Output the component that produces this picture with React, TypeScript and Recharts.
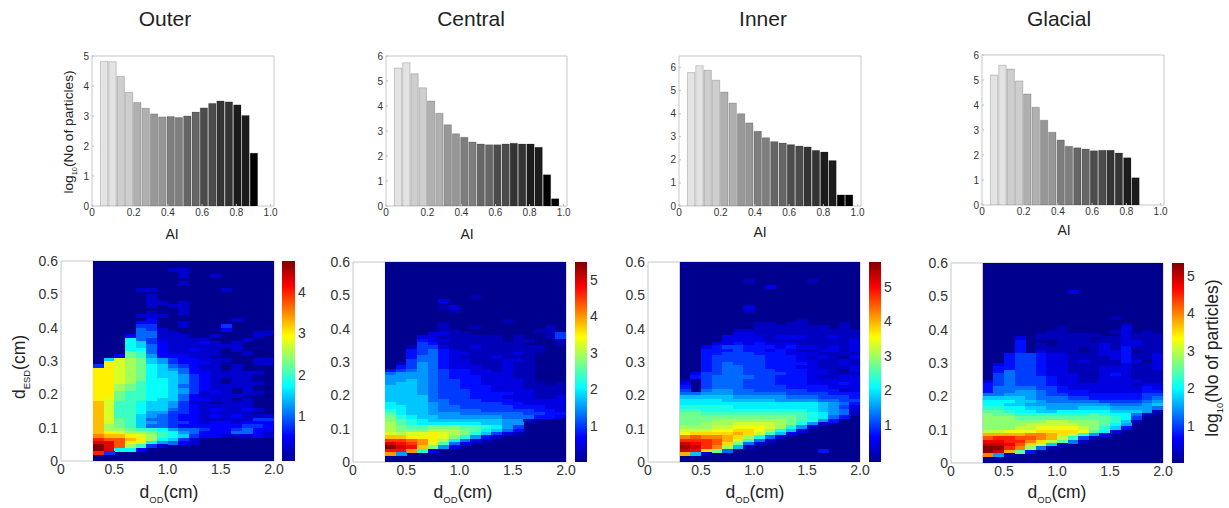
import React from 'react';
import { BarChart, Bar, Cell, ScatterChart, Scatter, XAxis, YAxis, ReferenceArea } from 'recharts';

// AI bin centres and grey per bin, shared by all four histograms
const aiBins = [0.03, 0.079, 0.127, 0.176, 0.224, 0.273, 0.322, 0.37, 0.419, 0.467, 0.516, 0.565, 0.613, 0.662, 0.71, 0.759, 0.808, 0.856, 0.905, 0.953];
const binGreys = ['#e3e3e3', '#e3e3e3', '#cecece', '#cecece', '#b0b0b0', '#b0b0b0', '#979797', '#979797', '#7e7e7e', '#7e7e7e', '#666666', '#666666', '#4c4c4c', '#4c4c4c', '#343434', '#343434', '#1c1c1c', '#1c1c1c', '#000000', '#000000'];

const outerCounts = [4.82, 4.81, 4.32, 3.79, 3.45, 3.26, 3.07, 2.97, 2.98, 2.95, 3.0, 3.13, 3.27, 3.42, 3.5, 3.47, 3.37, 3.02, 1.76];
const centralCounts = [5.52, 5.73, 5.29, 4.73, 4.2, 3.71, 3.25, 2.89, 2.75, 2.56, 2.48, 2.45, 2.45, 2.48, 2.51, 2.48, 2.48, 2.35, 1.25, 0.29];
const innerCounts = [5.78, 6.08, 5.88, 5.45, 4.94, 4.46, 4.0, 3.6, 3.24, 2.96, 2.79, 2.73, 2.66, 2.6, 2.56, 2.41, 2.34, 1.97, 0.48, 0.48];
const glacialCounts = [5.2, 5.59, 5.44, 4.96, 4.44, 3.91, 3.39, 2.91, 2.6, 2.35, 2.29, 2.24, 2.17, 2.19, 2.19, 2.08, 1.89, 1.09];

// heat maps: one string per 0.01 cm row of dESD, top row first, last string is 0-0.01.
// each char is one 0.1 cm column of dOD from 0.3 to 2.0, value = index in levelChars * 0.25 (log10)
const levelChars = '0123456789ABCDEFGHIJKLMNOP';

const outerRows = [
  '00000001100000000', '00000000100000000', '00000000100100000', '00000000000000000', '00000000100000000', '00000000000000000',
  '00001100000010000', '00000000000000000', '00000100000000000', '00000100000000000', '00000110100000000', '00000101100000000',
  '00000000100000000', '00000100100000000', '00001110000000000', '00000200000001000', '00002200100000000', '00003300100030000',
  '00004310000020000', '00004411000000011',
  '00024411100100010',
  '00074311111000100',
  '00076321112101000',
  '00076421111111000',
  '00077421121101000',
  '00098421111100100',
  '00298522211000000',
  '06BA9653221110011',
  '0CBA9653222100011',
  '3CBA9764321101000',
  'CCBA9765421101000',
  'CCBA9766422111110',
  'CCBA9766532111100',
  'CCBA9776532101100',
  'CCBA8776532101110',
  'CCA98776432111100',
  'CCA98776532110100',
  'CC988776531210110',
  'CC988776421111000',
  'CB988766422110100',
  'DB887665311011100',
  'DB887665321111100',
  'DB887664321211210',
  'DB887553321111100',
  'DB886543221212111',
  'DB986443221111133',
  'DB986543321221222',
  'DA986443222222332',
  'DAA98875443223422',
  'DCBAA987542224421',
  'EDDCBA87632211121',
  'GFFDCA76310000000',
  'HHFCB754210000000',
  'JHFA8310000000000',
  'JH772000000000000',
  'G3000000000000000',
  '00000000000000000',
  '00000000000000000',
];

const centralRows = [
  '00000000100000000', '00000200000000000', '00000000000000000', '00000120000000000', '00000010000000000', '00000000000000000',
  '00000000000000000', '00000000000100000', '00000100000000000', '00000100100000010', '00000110000000110', '00002211000000014',
  '00022111111010014',
  '00032211111011001',
  '00043111111110001',
  '00144211211111100',
  '00345321111111100',
  '00345322111121000',
  '00355321112111000',
  '00455322111221000',
  '01465322111211000',
  '03465322211211000',
  '34565433221211000',
  '56665433222211000',
  '66665433322211000',
  '66765443322221000',
  '67765443322221101',
  '77765443332221111',
  '77765444332222111',
  '77765444333322111',
  '77775444333222112',
  '77775544433322222',
  '87776544444332222',
  '88776554444433322',
  '98776555544444332',
  'A8776665555554433',
  'B9877666666555332',
  'BA987777777661000',
  'CA988888877660000',
  'CBAABBBAA98640000',
  'CBBBCCCBA87530000',
  'DCDDEDCB974210000',
  'FFEEEDB9631000000',
  'IIHGEC85210000000',
  'KJIGDA52000000000',
  'MKJFB620000000000',
  'JJG92000000000000',
  'G6000000000000000',
  '00000000000000000',
  '00000000000000000',
];

const innerRows = [
  '00000000000000000', '00000010000010000', '00000000000000000', '00000000200000000', '00000000000000000', '00000000000000000',
  '00000000000000000', '00000000000000000', '00000000000000000', '00000020000000000', '00000010000000000', '00000000000000000',
  '00000000000000000', '00000000000100000', '00000001101100010',
  '00000001111111010',
  '00000111111111111',
  '00000221111111111',
  '00002222122211211',
  '00002222111111112',
  '00022323222111112',
  '00234433323221212',
  '00333433232112212',
  '00334443332221111',
  '00344444333212102',
  '00344444333221121',
  '00345444333321121',
  '00345544333221112',
  '00345544433322102',
  '02445544443322111',
  '03455554433321122',
  '10455544433322222',
  '20455544433322232',
  '30455544443333222',
  '40566554444433312',
  '55666555554444333',
  '77777666665554443',
  '88887777766665544',
  '88888888888887653',
  '99999888888887642',
  'AA999999999987651',
  'BBAAAAAAAAAA98651',
  'BBBBBBBBBBBA98530',
  'BBBCCCCCCCBA96300',
  'BBCCCDDDDCB961000',
  'CCCDDEEEDC9610000',
  'DDDEEFFEC97200000',
  'EFFFFGFDA72000000',
  'HIHHGFC9510000000',
  'JJJIGDA5100000000',
  'LKJIFB51000000000',
  'MLJHC710000000000',
  'LKFB5000000003000',
  'G7100000000000000',
  '00000000000000000',
  '00000000000000000',
];

const glacialRows = [
  '00000000200000000', '00000000000000000', '00000000000000000', '00000000000000000', '00000000000000000', '00000000000000000',
  '00000000000000000', '00000000000000000', '00000000000010000', '00000000000000000', '00000000000001000', '00000001000002000',
  '00000011000012010',
  '00000111111002111',
  '00020111110112111',
  '00030001111112211',
  '00030101111212211',
  '00030111101213111',
  '00030211101223011',
  '00344322111223112',
  '00344322111123112',
  '00344322121113202',
  '02344322111112112',
  '03344322111222112',
  '03544322111222111',
  '04544322210232111',
  '04544432211222111',
  '24544432211222211',
  '34544432222222122',
  '35555443222222232',
  '35566543332222233',
  '55666544333333344',
  '77776555443333345',
  '88877655555444456',
  '88776666666655567',
  '99887766677766665',
  'AA988778888877761',
  'BAA9999999A988510',
  'BBBAAAAAAAAA98400',
  'BBBBBBCCBBBA97100',
  'BBBBCCCCCBBA86000',
  'BBBCCDDDDCB973000',
  'CCDDDEEEEDA820000',
  'FFFFGGFEC96200000',
  'HIIHHGFC941000000',
  'JJIIGECA510000000',
  'KKJHEC71000000000',
  'MLIGB510000000000',
  'LKFA3000000000000',
  'G6100000000000000',
  '00000000000000000',
  '00000000000000000',
];

const jetStops: [number, number[]][] = [
  [0, [0, 0, 143]],
  [0.125, [0, 0, 255]],
  [0.375, [0, 255, 255]],
  [0.625, [255, 255, 0]],
  [0.875, [255, 0, 0]],
  [1, [128, 0, 0]],
];

const jetColor = (f: number) => {
  const t = Math.min(1, Math.max(0, f));
  for (let i = 1; i < jetStops.length; i++) {
    const [p1, c1] = jetStops[i - 1];
    const [p2, c2] = jetStops[i];
    if (t <= p2) {
      const k = (t - p1) / (p2 - p1);
      return `rgb(${c1.map((c, n) => Math.round(c + (c2[n] - c) * k)).join(',')})`;
    }
  }
  return 'rgb(128,0,0)';
};

const toCells = (rows: string[]) => {
  const cells: { x: number; y: number; v: number }[] = [];
  rows.forEach((row, i) => {
    const rowIndex = rows.length - 1 - i;
    row.split('').forEach((ch, col) => {
      const level = levelChars.indexOf(ch);
      if (level > 0) cells.push({ x: 0.35 + col * 0.1, y: 0.005 + rowIndex * 0.01, v: level * 0.25 });
    });
  });
  return cells;
};

const panels = [
  {
    name: 'Outer', titleX: 165, aiX: 172, aiY: 234, counts: outerCounts, rows: outerRows,
    hist: { left: 92, top: 56, w: 182, h: 150, yMax: 5, yTicks: [0, 1, 2, 3, 4, 5] },
    heat: { left: 61, top: 261, w: 213, h: 200 },
    bar: { left: 282, w: 13, lo: -0.09, hi: 4.75, ticks: [1, 2, 3, 4] },
    odX: 169,
  },
  {
    name: 'Central', titleX: 471, aiX: 467, aiY: 234, counts: centralCounts, rows: centralRows,
    hist: { left: 386, top: 56, w: 181, h: 150, yMax: 6, yTicks: [0, 1, 2, 3, 4, 5, 6] },
    heat: { left: 353, top: 262, w: 213, h: 200 },
    bar: { left: 575, w: 12, lo: 0, hi: 5.49, ticks: [1, 2, 3, 4, 5] },
    odX: 463,
  },
  {
    name: 'Inner', titleX: 763, aiX: 760, aiY: 232, counts: innerCounts, rows: innerRows,
    hist: { left: 679, top: 56, w: 182, h: 150, yMax: 6.5, yTicks: [0, 1, 2, 3, 4, 5, 6] },
    heat: { left: 648, top: 262, w: 212, h: 200 },
    bar: { left: 869, w: 12, lo: -0.07, hi: 5.71, ticks: [1, 2, 3, 4, 5] },
    odX: 755,
  },
  {
    name: 'Glacial', titleX: 1059, aiX: 1064, aiY: 230, counts: glacialCounts, rows: glacialRows,
    hist: { left: 982, top: 55, w: 182, h: 150, yMax: 6, yTicks: [0, 1, 2, 3, 4, 5, 6] },
    heat: { left: 951, top: 263, w: 212, h: 200 },
    bar: { left: 1172, w: 12, lo: 0.01, hi: 5.34, ticks: [1, 2, 3, 4, 5] },
    odX: 1057,
  },
];

const AI_MIN = -0.043;
const AI_MAX = 1.02;
const AI_TICKS = [AI_MIN, 0.2, 0.4, 0.6, 0.8, 1.0];
const TICK_COLOR = '#333';

const Txt: React.FC<{ x: number; y: number; size: number; rotate?: boolean; children: React.ReactNode }> = ({ x, y, size, rotate, children }) => (
  <div
    style={{
      position: 'absolute', left: x, top: y, fontSize: size, color: '#222', whiteSpace: 'nowrap', lineHeight: 1,
      transform: `translate(-50%, -50%)${rotate ? ' rotate(-90deg)' : ''}`,
    }}
  >
    {children}
  </div>
);

const Sub: React.FC<{ children: React.ReactNode }> = ({ children }) => (
  <sub style={{ fontSize: '0.54em', lineHeight: 0 }}>{children}</sub>
);

const Histogram: React.FC<{ counts: number[]; cfg: (typeof panels)[number]['hist'] }> = ({ counts, cfg }) => {
  const padLeft = 24;
  const data = counts.map((c, i) => ({ ai: aiBins[i], count: c }));
  return (
    <div style={{ position: 'absolute', left: cfg.left - padLeft, top: cfg.top - 8 }}>
      <BarChart width={cfg.w + padLeft + 8} height={cfg.h + 28} data={data} margin={{ top: 8, right: 8, left: 0, bottom: 0 }}>
        <XAxis
          type="number" dataKey="ai" domain={[AI_MIN, AI_MAX]} ticks={AI_TICKS} allowDataOverflow interval={0} height={20}
          tickFormatter={(v: number) => (v < 0 ? '0' : v.toFixed(1))}
          tick={{ fontSize: 10, fill: TICK_COLOR }} axisLine={false} tickSize={-2} tickMargin={5} tickLine={{ stroke: '#bbb' }}
        />
        <YAxis
          type="number" domain={[0, cfg.yMax]} ticks={cfg.yTicks} allowDataOverflow interval={0} width={padLeft}
          tick={{ fontSize: 10, fill: TICK_COLOR }} axisLine={false} tickSize={-2} tickMargin={5} tickLine={{ stroke: '#bbb' }}
        />
        <Bar dataKey="count" barSize={8.35} isAnimationActive={false} stroke="#000" strokeOpacity={0.3} strokeWidth={0.6}>
          {data.map((d, i) => <Cell key={d.ai} fill={binGreys[i]} />)}
        </Bar>
        <ReferenceArea x1={AI_MIN} x2={AI_MAX} y1={0} y2={cfg.yMax} fillOpacity={0} stroke="#c6c6c6" strokeOpacity={1} />
      </BarChart>
    </div>
  );
};

const HeatMap: React.FC<{ rows: string[]; cfg: (typeof panels)[number]['heat']; lo: number; hi: number }> = ({ rows, cfg, lo, hi }) => {
  const padLeft = 40;
  const cellW = (cfg.w * 0.1) / 2;
  const cellH = (cfg.h * 0.01) / 0.6;
  const renderCell = (p: any) => (
    <rect
      x={p.cx - cellW / 2} y={p.cy - cellH / 2} width={cellW + 0.5} height={cellH + 0.5} shapeRendering="crispEdges"
      fill={jetColor((p.payload.v - lo) / (hi - lo))}
    />
  );
  return (
    <div style={{ position: 'absolute', left: cfg.left - padLeft, top: cfg.top - 10 }}>
      <ScatterChart width={cfg.w + padLeft + 12} height={cfg.h + 34} margin={{ top: 10, right: 12, left: 0, bottom: 0 }}>
        <XAxis
          type="number" dataKey="x" domain={[0, 2]} ticks={[0, 0.5, 1, 1.5, 2]} allowDataOverflow interval={0} height={24}
          tickFormatter={(v: number) => (v === 0 ? '0' : v.toFixed(1))}
          tick={{ fontSize: 14, fill: TICK_COLOR }} axisLine={false} tickLine={false} tickSize={0} tickMargin={3}
        />
        <YAxis
          type="number" dataKey="y" domain={[0, 0.6]} ticks={[0, 0.1, 0.2, 0.3, 0.4, 0.5, 0.6]} allowDataOverflow interval={0} width={padLeft}
          tickFormatter={(v: number) => (v === 0 ? '0' : v.toFixed(1))}
          tick={{ fontSize: 14, fill: TICK_COLOR }} axisLine={false} tickLine={false} tickSize={0} tickMargin={3}
        />
        <ReferenceArea x1={0} x2={2} y1={0} y2={0.6} fillOpacity={0} stroke="#c6c6c6" strokeOpacity={1} />
        <ReferenceArea x1={0.3} x2={2} y1={0} y2={0.6} fill={jetColor(0)} fillOpacity={1} stroke="none" />
        <Scatter data={toCells(rows)} shape={renderCell} isAnimationActive={false} />
      </ScatterChart>
    </div>
  );
};

const ColorBar: React.FC<{ id: string; cfg: (typeof panels)[number]['bar']; top: number; h: number }> = ({ id, cfg, top, h }) => (
  <div style={{ position: 'absolute', left: cfg.left, top: top - 10 }}>
    <BarChart width={cfg.w + 24} height={h + 20} data={[{ range: [cfg.lo, cfg.hi] }]} barCategoryGap={0} margin={{ top: 10, right: 0, left: 0, bottom: 10 }}>
      <defs>
        <linearGradient id={id} x1="0" y1="1" x2="0" y2="0">
          {jetStops.map(([p, c]) => <stop key={p} offset={p} stopColor={`rgb(${c.join(',')})`} />)}
        </linearGradient>
      </defs>
      <XAxis hide />
      <YAxis
        orientation="right" type="number" domain={[cfg.lo, cfg.hi]} ticks={cfg.ticks} allowDataOverflow interval={0} width={24}
        tick={{ fontSize: 14, fill: TICK_COLOR }} axisLine={false} tickLine={false} tickSize={0} tickMargin={3}
      />
      <Bar dataKey="range" fill={`url(#${id})`} isAnimationActive={false} />
    </BarChart>
  </div>
);

export default function App() {
  return (
    <div style={{ position: 'absolute', left: 0, top: 0, width: 1229, height: 508, background: '#fff', overflow: 'hidden', fontFamily: '"Liberation Sans", Arial, sans-serif' }}>
      {/* the source figure is a soft scan, so the cells are softened a little */}
      <style>{'.recharts-scatter { filter: blur(0.7px); }'}</style>
      {panels.map((p) => (
        <React.Fragment key={p.name}>
          <Txt x={p.titleX} y={18} size={21}>{p.name}</Txt>
          <Histogram counts={p.counts} cfg={p.hist} />
          <Txt x={p.aiX} y={p.aiY} size={14}>AI</Txt>
          <HeatMap rows={p.rows} cfg={p.heat} lo={p.bar.lo} hi={p.bar.hi} />
          <ColorBar id={`jet-${p.name}`} cfg={p.bar} top={p.heat.top} h={p.heat.h} />
          <Txt x={p.odX} y={493} size={17.5}>d<Sub>OD</Sub>(cm)</Txt>
        </React.Fragment>
      ))}
      <Txt x={69} y={132} size={13.7} rotate>log<Sub>10</Sub>(No of particles)</Txt>
      <Txt x={20} y={367} size={17.5} rotate>d<Sub>ESD</Sub>(cm)</Txt>
      <Txt x={1213} y={358} size={17.5} rotate>log<Sub>10</Sub>(No of particles)</Txt>
    </div>
  );
}
